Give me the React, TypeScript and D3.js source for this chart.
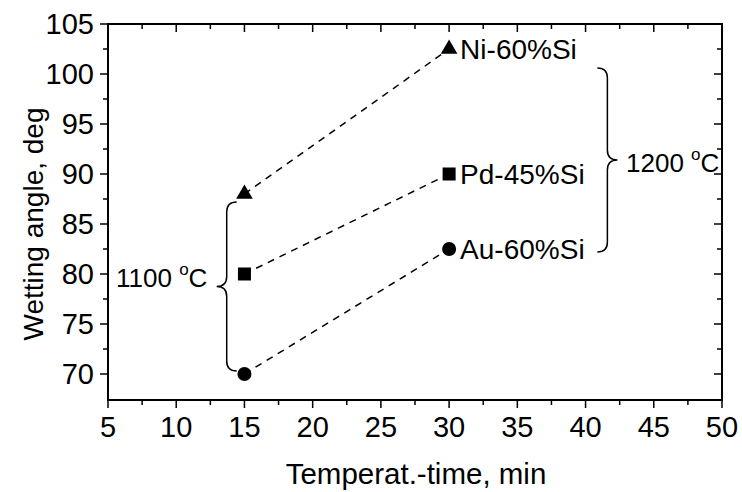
import React from "react";
import * as d3 from "d3";

const seriesNames = ["Ni-60%Si", "Pd-45%Si", "Au-60%Si"];
const seriesShapes = ["triangle", "square", "circle"];
const times = [15, 30];
const niValues = [88, 102.5];
const pdValues = [80, 90];
const auValues = [70, 82.5];
const xTicks = [5, 10, 15, 20, 25, 30, 35, 40, 45, 50];
const yTicks = [70, 75, 80, 85, 90, 95, 100, 105];
const tempLabels = ["1100", "1200"];

const W = 742;
const H = 492;
const left = 108, right = 722, top = 24, bottom = 400;

export default function App() {
  const x = d3.scaleLinear().domain([5, 50]).range([left, right]);
  const y = d3.scaleLinear().domain([67.4, 105]).range([bottom, top]);
  const series = [niValues, pdValues, auValues];
  const xMinor = d3.range(7.5, 50, 5);
  const yMinor = d3.range(72.5, 105, 5);
  const font = "Liberation Sans, Arial, Helvetica, sans-serif";
  const line = d3.line<number>().x((_, i) => x(times[i])).y((v) => y(v));

  const marker = (shape: string, cx: number, cy: number, key: string) => {
    if (shape === "triangle") {
      const s = d3.symbol(d3.symbolTriangle, 120)();
      return <path key={key} d={s || ""} transform={`translate(${cx},${cy})`} fill="#000" />;
    }
    if (shape === "square") {
      return <rect key={key} x={cx - 6.5} y={cy - 6.5} width={13} height={13} fill="#000" />;
    }
    return <circle key={key} cx={cx} cy={cy} r={7} fill="#000" />;
  };

  const brace = (bx: number, y0: number, y1: number, dir: number) => {
    const r = 10;
    const ym = (y0 + y1) / 2;
    const e = -dir;
    return [
      `M${bx + e * r},${y0}`,
      `Q${bx},${y0} ${bx},${y0 + r}`,
      `L${bx},${ym - r}`,
      `Q${bx},${ym} ${bx + dir * r},${ym}`,
      `Q${bx},${ym} ${bx},${ym + r}`,
      `L${bx},${y1 - r}`,
      `Q${bx},${y1} ${bx + e * r},${y1}`,
    ].join(" ");
  };

  return (
    <svg width={W} height={H} style={{ position: "absolute", left: 0, top: 0, background: "#fff" }} fontFamily={font}>
      <rect x={left} y={top} width={right - left} height={bottom - top} fill="none" stroke="#000" strokeWidth={2} />
      {xTicks.map((t) => (
        <g key={"xt" + t}>
          <line x1={x(t)} x2={x(t)} y1={bottom} y2={bottom + 8} stroke="#000" strokeWidth={1.5} />
          <line x1={x(t)} x2={x(t)} y1={top} y2={top + 8} stroke="#000" strokeWidth={1.5} />
          <text x={x(t)} y={437} textAnchor="middle" fontSize={29}>{t}</text>
        </g>
      ))}
      {xMinor.map((t) => (
        <g key={"xm" + t}>
          <line x1={x(t)} x2={x(t)} y1={bottom} y2={bottom + 5} stroke="#000" strokeWidth={1.5} />
          <line x1={x(t)} x2={x(t)} y1={top} y2={top + 5} stroke="#000" strokeWidth={1.5} />
        </g>
      ))}
      {yTicks.map((t) => (
        <g key={"yt" + t}>
          <line x1={left - 8} x2={left} y1={y(t)} y2={y(t)} stroke="#000" strokeWidth={1.5} />
          <line x1={right - 8} x2={right} y1={y(t)} y2={y(t)} stroke="#000" strokeWidth={1.5} />
          <text x={94} y={y(t) + 10} textAnchor="end" fontSize={29}>{t}</text>
        </g>
      ))}
      {yMinor.map((t) => (
        <g key={"ym" + t}>
          <line x1={left - 5} x2={left} y1={y(t)} y2={y(t)} stroke="#000" strokeWidth={1.5} />
          <line x1={right - 5} x2={right} y1={y(t)} y2={y(t)} stroke="#000" strokeWidth={1.5} />
        </g>
      ))}
      <text x={416} y={484} textAnchor="middle" fontSize={29.5}>Temperat.-time, min</text>
      <text transform={`translate(43,224) rotate(-90)`} textAnchor="middle" fontSize={28}>Wetting angle, deg</text>
      {series.map((s, i) => (
        <path key={"l" + i} d={line(s) || ""} fill="none" stroke="#000" strokeWidth={1.5} strokeDasharray="7,6" />
      ))}
      {series.map((s, i) =>
        s.map((v, j) => marker(seriesShapes[i], x(times[j]), y(v), `m${i}-${j}`))
      )}
      {series.map((s, i) => (
        <text key={"n" + i} x={x(times[1]) + 11} y={y(s[1]) + 10} fontSize={28}>{seriesNames[i]}</text>
      ))}
      <path d={brace(x(13.7), y(87.2), y(70.3), -1)} fill="none" stroke="#000" strokeWidth={1.5} />
      <path d={brace(x(41.6), y(100.6), y(82.2), 1)} fill="none" stroke="#000" strokeWidth={1.5} />
      <text x={116} y={287} fontSize={26}>
        {tempLabels[0] + " "}
        <tspan dy={-12} fontSize={17}>o</tspan>
        <tspan dy={12}>C</tspan>
      </text>
      <text x={626} y={172} fontSize={26}>
        {tempLabels[1] + " "}
        <tspan dy={-12} fontSize={17}>o</tspan>
        <tspan dy={12}>C</tspan>
      </text>
    </svg>
  );
}
